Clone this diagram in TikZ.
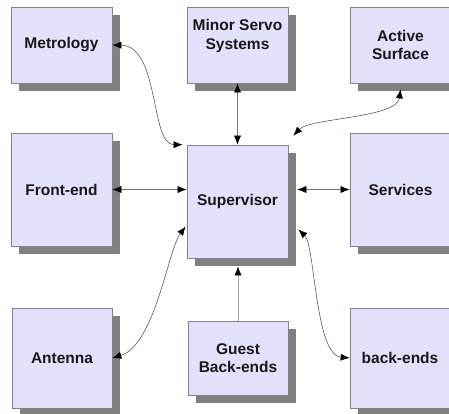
\documentclass[tikz,border=0pt]{standalone}
\usepackage{fontspec}
\setmainfont{Liberation Sans}
\usetikzlibrary{arrows.meta,shadows}
\definecolor{boxfill}{RGB}{225,226,250}
\definecolor{boxline}{RGB}{130,130,140}
\definecolor{shade}{RGB}{128,128,128}
\begin{document}
\begin{tikzpicture}[x=1pt,y=-1pt,
  label text/.style={font=\bfseries\fontsize{15.5}{18.5}\selectfont, align=center, text=black!90},
  unit/.style={label text, draw=boxline, fill=boxfill, line width=0.7pt, inner sep=0pt,
    drop shadow={shadow xshift=8pt, shadow yshift=-8pt, fill=shade, opacity=1}},
  small unit/.style={unit, minimum width=101pt, minimum height=76pt},
  tall unit/.style={unit, minimum width=101pt, minimum height=113pt},
  square unit/.style={unit, minimum width=100pt, minimum height=100pt},
  link/.style={line width=0.55pt, draw=black!70,
    {Latex[length=9pt,width=7pt,color=black]}-{Latex[length=9pt,width=7pt,color=black]}},
  straight/.style={link, draw=black!55},
]
\useasboundingbox (0,0) rectangle (449,414);
\clip (0,0) rectangle (449,414);
\fill[white] (0,0) rectangle (449,414);

% top row
\node[small unit] (met) at (61.5,45) {Metrology};
\node[small unit] (mss) at (237.5,45) {};
\node[label text] (msstext) at (237.5,36) {Minor Servo\\Systems};
\node[small unit] (act) at (400.5,45) {Active\\Surface};

% middle row
\node[tall unit] (fe) at (61.5,189.5) {Front-end};
\node[tall unit] (sup) at (237.5,201.5) {Supervisor};
\node[tall unit] (srv) at (400.5,189.5) {Services};

% bottom row
\node[square unit] (ant) at (62,358) {Antenna};
\node[unit, minimum width=100pt, minimum height=74pt] (gbe) at (238,358) {Guest\\Back-ends};
\node[square unit] (be) at (400,358) {back-ends};

% free ends of the connectors near the supervisor
\coordinate (supMet) at ([shift={(-4,0)}]sup.north west);
\coordinate (supAct) at ([shift={(5,-9)}]sup.north east);
\coordinate (supAnt) at ([shift={(-1,25)}]sup.west);
\coordinate (supBe)  at ([shift={(10,28)}]sup.east);
\coordinate (supSrv) at ([shift={(9,0)}]sup.east |- srv.west);
\coordinate (supBot) at ([shift={(0,8)}]sup.south);
\coordinate (actBot) at ([shift={(0,6)}]act.south);

% connectors
\draw[link] (met.east) .. controls (160,46) and (150,145) .. (supMet);
\draw[straight] (mss.south) -- (sup.north);
\draw[link] (actBot) .. controls (397,118) and (310,118) .. (supAct);
\draw[straight] (fe.east) -- (sup.west |- fe.east);
\draw[straight] (supSrv) -- (srv.west);
\draw[link] (ant.east) .. controls (155,345) and (168,250) .. (supAnt);
\draw[line width=0.7pt, draw=black!35, -{Latex[length=9pt,width=7pt,color=black]}] (gbe.north) -- (gbe.north |- supBot);
\draw[link] (supBe) .. controls (315,245) and (315,355) .. (be.west);
\end{tikzpicture}
\end{document}
